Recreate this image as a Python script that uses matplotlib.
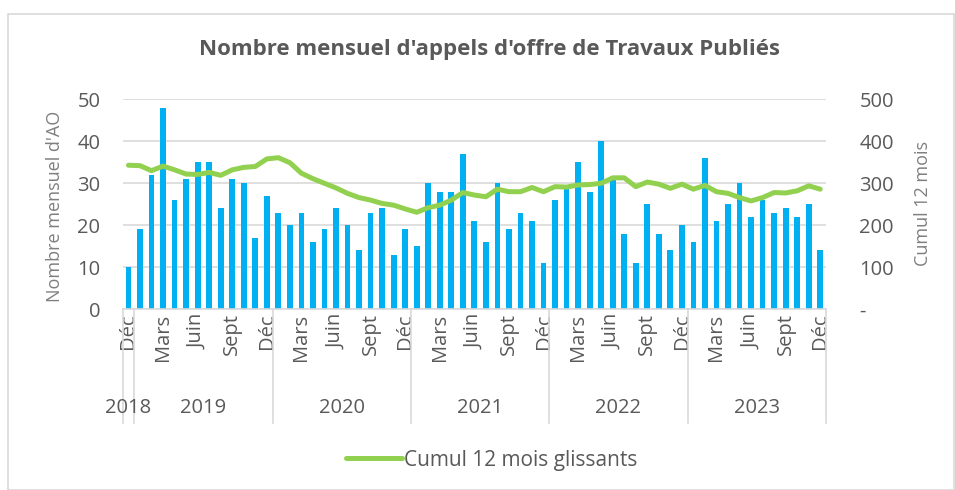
import matplotlib
matplotlib.use('Agg')
import matplotlib.pyplot as plt
import matplotlib.transforms as mtransforms
from matplotlib.patches import Rectangle
from matplotlib.ticker import FuncFormatter

plt.rcParams['font.family'] = ['Open Sans', 'DejaVu Sans']

# ---- data ----
monthly_ao = [10, 19, 32, 48, 26, 31, 35, 35, 24, 31, 30, 17,
              27, 23, 20, 23, 16, 19, 24, 20, 14, 23, 24, 13,
              19, 15, 30, 28, 28, 37, 21, 16, 30, 19, 23, 21,
              11, 26, 29, 35, 28, 40, 31, 18, 11, 25, 18, 14,
              20, 16, 36, 21, 25, 30, 22, 26, 23, 24, 22, 25, 14]
cumul_12 = [343, 342, 330, 341, 332, 322, 321, 326, 319, 332, 338, 340,
            358, 361, 349, 324, 311, 300, 289, 276, 266, 260, 252, 248,
            239, 231, 242, 248, 260, 278, 272, 268, 286, 280, 280, 290,
            280, 292, 291, 296, 297, 300, 313, 313, 292, 303, 298, 288,
            298, 286, 295, 280, 276, 266, 258, 266, 278, 277, 282, 294, 286]
month_labels = ['Déc'] + ['Mars', 'Juin', 'Sept', 'Déc'] * 5
years = ['2018', '2019', '2020', '2021', '2022', '2023']
year_first_idx = [0, 1, 13, 25, 37, 49]
year_last_idx = [0, 12, 24, 36, 48, 60]

BAR = '#00B0F0'
LINE = '#92D050'
GRID = '#D9D9D9'
TXT = '#595959'
LBL = '#7F7F7F'
FS = 14.5

W, H = 955, 490
fig = plt.figure(figsize=(W / 100, H / 100), dpi=100)

def fx(px):
    return px / W

def fy(py):
    return 1 - py / H

# outer border
fig.patches.append(Rectangle((fx(8), fy(489.5)), fx(946), fy(14) - fy(489.5),
                             transform=fig.transFigure, fill=False,
                             edgecolor=GRID, linewidth=1.2))

left, right, top, bottom = 122.7, 826.0, 99.3, 309.3
ax = fig.add_axes([fx(left), fy(bottom), fx(right - left), fy(top) - fy(bottom)])
ax2 = ax.twinx()

x = list(range(len(monthly_ao)))
ax.bar(x, monthly_ao, width=0.5, color=BAR, zorder=2)
ax.set_xlim(-0.5, len(x) - 0.5)
ax.set_ylim(0, 50)
ax.set_yticks(range(0, 51, 10))
ax.grid(axis='y', color=GRID, linewidth=1.2, zorder=0)
ax.set_axisbelow(True)
for s in ['top', 'right', 'left']:
    ax.spines[s].set_visible(False)
ax.spines['bottom'].set_color(GRID)
ax.spines['bottom'].set_linewidth(1.2)
ax.tick_params(axis='y', length=0, pad=16, labelsize=FS, labelcolor=TXT)

ax.set_xticks(x[::3])
ax.set_xticklabels(month_labels, rotation=90, fontsize=FS, color=TXT)
ax.tick_params(axis='x', length=0, pad=3)

ax2.plot(x, cumul_12, color=LINE, linewidth=3.6, solid_capstyle='round',
         solid_joinstyle='round', label='Cumul 12 mois glissants', zorder=3)
ax2.set_ylim(0, 500)
ax2.set_yticks(range(0, 501, 100))
ax2.yaxis.set_major_formatter(FuncFormatter(lambda v, p: '-' if v == 0 else f'{int(v)}'))
for s in ['top', 'right', 'left', 'bottom']:
    ax2.spines[s].set_visible(False)
ax2.tick_params(axis='y', length=0, pad=24, labelsize=FS, labelcolor=TXT)
for t in ax2.get_yticklabels():
    t.set_horizontalalignment('left')

# category separators and year labels
trans = mtransforms.blended_transform_factory(ax.transData, ax.transAxes)
ax_h = bottom - top
sep_bottom = -(423 - bottom) / ax_h
seps = [-0.5] + [i + 0.5 for i in year_last_idx]
for s in seps:
    ax.plot([s, s], [0, sep_bottom], transform=trans, color=GRID,
            linewidth=1.2, clip_on=False, zorder=1)
year_y = -(408 - bottom) / ax_h
for yr, a, b in zip(years, year_first_idx, year_last_idx):
    ax.text((a + b) / 2, year_y, yr, transform=trans, ha='center', va='center',
            fontsize=FS, color=TXT)

fig.text(fx(489), fy(50), "Nombre mensuel d'appels d'offre de Travaux Publiés",
         ha='center', va='center', fontsize=16, fontweight='bold', color=TXT)
fig.text(fx(55), fy(206), "Nombre mensuel d'AO", rotation=90, ha='center',
         va='center', fontsize=13, color=LBL)
fig.text(fx(923), fy(204), "Cumul 12 mois", rotation=90, ha='center',
         va='center', fontsize=13, color=LBL)

fig.legend(handles=ax2.get_lines(), loc='center', bbox_to_anchor=(fx(492), fy(460)),
           frameon=False, fontsize=15, labelcolor=TXT, handlelength=2.7,
           handletextpad=0.1)

fig.savefig('out.png', dpi=100)
